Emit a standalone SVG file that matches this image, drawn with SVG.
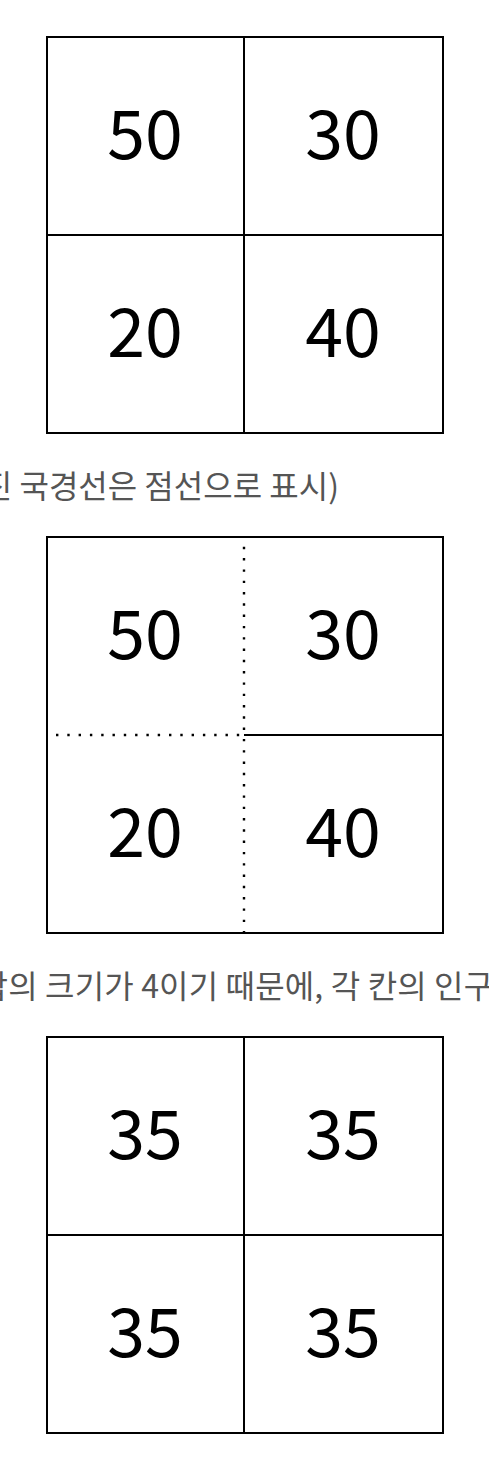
<svg xmlns="http://www.w3.org/2000/svg" width="489" height="1467" viewBox="0 0 489 1467">
<style>
.bg{fill:#ffffff}
.frame{fill:none;stroke:#000;stroke-width:2}
.solid{stroke:#000;stroke-width:2;fill:none}
.dot{stroke:#000;stroke-width:2.4;fill:none;stroke-dasharray:2.4 8.9}
.num{font-family:"Noto Sans CJK KR","Noto Sans",sans-serif;font-size:68px;fill:#000;text-anchor:middle}
.cap{font-family:"Noto Sans CJK KR","Noto Sans",sans-serif;font-size:32px;fill:#555}
</style>
<rect class="bg" x="0" y="0" width="489" height="1467"/>

<g id="grid1">
  <g id="g1-c50"><text class="num" x="145" y="159">50</text></g>
  <g id="g1-c30"><text class="num" x="343" y="159">30</text></g>
  <g id="g1-c20"><text class="num" x="145" y="357">20</text></g>
  <g id="g1-c40"><text class="num" x="343" y="357">40</text></g>
</g>

<text id="caption1" class="cap" x="339" y="498" text-anchor="end">진 국경선은 점선으로 표시)</text>

<g id="grid2">
  <g id="g2-c50"><text class="num" x="145" y="659">50</text></g>
  <g id="g2-c30"><text class="num" x="343" y="659">30</text></g>
  <g id="g2-c20"><text class="num" x="145" y="857">20</text></g>
  <g id="g2-c40"><text class="num" x="343" y="857">40</text></g>
</g>

<text id="caption2" class="cap" x="-51" y="998" letter-spacing="0.15">연합의 크기가 4이기 때문에, 각 칸의 인구는</text>

<g id="grid3">
  <g id="g3-c1"><text class="num" x="145" y="1159">35</text></g>
  <g id="g3-c2"><text class="num" x="343" y="1159">35</text></g>
  <g id="g3-c3"><text class="num" x="145" y="1357">35</text></g>
  <g id="g3-c4"><text class="num" x="343" y="1357">35</text></g>
</g>

<g id="connectors">
  <rect class="frame" x="47" y="37" width="396" height="396"/>
  <line class="solid" x1="244" y1="37" x2="244" y2="433"/>
  <line class="solid" x1="47" y1="235" x2="443" y2="235"/>

  <rect class="frame" x="47" y="537" width="396" height="396"/>
  <line class="dot" x1="244" y1="546.8" x2="244" y2="932"/>
  <line class="dot" x1="56" y1="735" x2="244" y2="735"/>
  <line class="solid" x1="244" y1="735" x2="443" y2="735"/>

  <rect class="frame" x="47" y="1037" width="396" height="396"/>
  <line class="solid" x1="244" y1="1037" x2="244" y2="1433"/>
  <line class="solid" x1="47" y1="1235" x2="443" y2="1235"/>
</g>
</svg>
